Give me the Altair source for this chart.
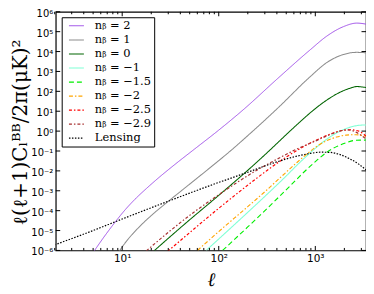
import altair as alt
import pandas as pd

# ---- series definitions ----
series_labels = ["nᵦ = 2", "nᵦ = 1", "nᵦ = 0", "nᵦ = −1", "nᵦ = −1.5",
                 "nᵦ = −2", "nᵦ = −2.5", "nᵦ = −2.9", "Lensing"]
colors = ["#a052e8", "#8c8c8c", "#006400", "#7fffd4", "#00ee00",
          "#ffa500", "#ff0000", "#a83232", "#000000"]
dashes = [[1, 0], [1, 0], [1, 0], [1, 0], [5, 3],
          [4, 2, 1.5, 2], [3, 2, 1.5, 2], [3, 2, 1.5, 2], [1.5, 1.5]]
widths = [1.0, 1.2, 1.6, 2.2, 2.8, 2.3, 1.9, 1.1, 1.2]

# values, stored as log10(ell), log10(C)
log_ell_nb2 = [0.70, 0.80, 0.92, 1.03, 1.14, 1.25, 1.35, 1.55, 1.75, 2.00, 2.26, 2.60, 2.95, 3.12, 3.29, 3.43, 3.525]
log_cl_nb2 = [-6.1, -5.4, -4.62, -3.96, -3.39, -2.89, -2.46, -1.66, -0.90, 0.05, 1.10, 2.60, 4.10, 4.78, 5.25, 5.43, 5.38]

log_ell_nb1 = [0.96, 1.05, 1.17, 1.30, 1.48, 1.69, 1.92, 2.12, 2.33, 2.61, 2.95, 3.12, 3.29, 3.43, 3.525]
log_cl_nb1 = [-6.1, -5.5, -4.85, -4.25, -3.52, -2.70, -1.80, -1.00, -0.10, 1.15, 2.75, 3.45, 3.85, 3.96, 3.94]

log_ell_nb0 = [1.33, 1.66, 2.00, 2.31, 2.52, 2.72, 2.85, 2.95, 3.05, 3.15, 3.25, 3.35, 3.43, 3.525]
log_cl_nb0 = [-6.02, -4.62, -3.23, -1.93, -1.00, -0.08, 0.50, 0.93, 1.32, 1.66, 1.94, 2.14, 2.24, 2.19]

log_ell_nbm1 = [1.87, 2.10, 2.35, 2.55, 2.70, 2.83, 2.95, 3.05, 3.15, 3.25, 3.35, 3.45, 3.525]
log_cl_nbm1 = [-6.0, -4.98, -3.86, -2.95, -2.25, -1.62, -1.08, -0.66, -0.30, -0.02, 0.18, 0.29, 0.31]

log_ell_nbm15 = [2.04, 2.30, 2.55, 2.75, 2.90, 3.02, 3.12, 3.22, 3.32, 3.42, 3.525]
log_cl_nbm15 = [-6.0, -4.82, -3.66, -2.70, -1.98, -1.45, -1.06, -0.78, -0.58, -0.46, -0.45]

log_ell_nbm2 = [1.78, 2.00, 2.30, 2.50, 2.65, 2.80, 2.92, 3.02, 3.12, 3.22, 3.32, 3.42, 3.525]
log_cl_nbm2 = [-6.0, -5.05, -3.80, -2.95, -2.28, -1.62, -1.12, -0.75, -0.48, -0.30, -0.20, -0.18, -0.26]

log_ell_nbm25 = [1.47, 1.70, 1.92, 2.20, 2.31, 2.50, 2.70, 2.90, 3.05, 3.17, 3.28, 3.36, 3.45, 3.525]
log_cl_nbm25 = [-6.05, -5.1, -4.2, -3.1, -2.68, -1.98, -1.30, -0.72, -0.36, -0.12, 0.03, 0.07, 0.0, -0.25]

log_ell_nbm29 = [1.25, 1.50, 1.75, 2.00, 2.20, 2.40, 2.60, 2.80, 3.00, 3.15, 3.25, 3.33, 3.42, 3.525]
log_cl_nbm29 = [-6.02, -5.0, -4.05, -3.2, -2.55, -1.95, -1.42, -0.92, -0.50, -0.18, 0.0, 0.06, -0.05, -0.40]

log_ell_lens = [0.30, 0.65, 1.00, 1.48, 1.92, 2.30, 2.60, 2.80, 2.95, 3.05, 3.15, 3.25, 3.35, 3.45, 3.525]
log_cl_lens = [-5.72, -5.09, -4.42, -3.52, -2.72, -2.07, -1.55, -1.27, -1.12, -1.06, -1.07, -1.17, -1.38, -1.66, -1.95]

all_ell = [log_ell_nb2, log_ell_nb1, log_ell_nb0, log_ell_nbm1, log_ell_nbm15,
           log_ell_nbm2, log_ell_nbm25, log_ell_nbm29, log_ell_lens]
all_cl = [log_cl_nb2, log_cl_nb1, log_cl_nb0, log_cl_nbm1, log_cl_nbm15,
          log_cl_nbm2, log_cl_nbm25, log_cl_nbm29, log_cl_lens]

rows = []
for i, (lab, le, lc) in enumerate(zip(series_labels, all_ell, all_cl)):
    for j, (a, b) in enumerate(zip(le, lc)):
        rows.append({"series": lab, "order": i, "idx": j,
                     "ell": 10 ** a, "cl": 10 ** b})
df = pd.DataFrame(rows)

x_major = [10, 100, 1000]
x_minor = [2, 3, 4, 5, 6, 7, 8, 9, 20, 30, 40, 50, 60, 70, 80, 90,
           200, 300, 400, 500, 600, 700, 800, 900, 2000, 3000]
y_major = [1e-6, 1e-5, 1e-4, 1e-3, 1e-2, 1e-1, 1, 1e1, 1e2, 1e3, 1e4, 1e5, 1e6]

W, H = 312, 240
lab_expr = ("'10' + (datum.value < 1e-5 ? '⁻⁶' : datum.value < 1e-4 ? '⁻⁵' : "
            "datum.value < 1e-3 ? '⁻⁴' : datum.value < 1e-2 ? '⁻³' : "
            "datum.value < 1e-1 ? '⁻²' : datum.value < 0.5 ? '⁻¹' : "
            "datum.value < 5 ? '⁰' : datum.value < 50 ? '¹' : "
            "datum.value < 500 ? '²' : datum.value < 5000 ? '³' : "
            "datum.value < 50000 ? '⁴' : datum.value < 500000 ? '⁵' : '⁶')")

xscale = alt.Scale(type="log", domain=[2.05, 3350], nice=False)
yscale = alt.Scale(type="log", domain=[1e-6, 1e6], nice=False)

lines = alt.Chart(df).mark_line(clip=True, interpolate="monotone").encode(
    x=alt.X("ell:Q", scale=xscale,
            axis=alt.Axis(values=x_major, labelExpr=lab_expr, ticks=False,
                          domain=False, grid=False, title="ℓ",
                          labelFont="DejaVu Sans", labelFontSize=10.5,
                          labelPadding=3, labelColor="#000",
                          titleFont="DejaVu Serif", titleFontSize=19,
                          titleFontWeight="normal", titleFontStyle="italic",
                          titleColor="#000",
                          titleY=35, titleBaseline="alphabetic")),
    y=alt.Y("cl:Q", scale=yscale,
            axis=alt.Axis(values=y_major, labelExpr=lab_expr, ticks=False,
                          domain=False, grid=False,
                          title="ℓ(ℓ+1)Cₗᴮᴮ/2π(μK)²",
                          labelFont="DejaVu Sans", labelFontSize=10,
                          labelPadding=3, labelColor="#000",
                          labelBaseline="middle", labelOffset=1.5,
                          titleFont="DejaVu Serif", titleFontSize=20,
                          titleFontWeight="normal", titleColor="#000",
                          titleX=-35, titleY=121, titleAngle=270,
                          titleAlign="center", titleBaseline="middle")),
    color=alt.Color("series:N", scale=alt.Scale(domain=series_labels, range=colors),
                    legend=alt.Legend(title=None, orient="none", legendX=6, legendY=5.5,
                                      fillColor="white", strokeColor="black",
                                      padding=2.8, symbolType="M-1,0H2", symbolSize=100,
                                      symbolOffset=3.5,
                                      labelFont="DejaVu Serif", labelFontSize=11.5,
                                      labelOffset=15, rowPadding=2.1, labelColor="#000")),
    strokeDash=alt.StrokeDash("series:N", scale=alt.Scale(domain=series_labels, range=dashes),
                              legend=alt.Legend(title=None)),
    strokeWidth=alt.StrokeWidth("series:N", scale=alt.Scale(domain=series_labels, range=widths),
                                legend=alt.Legend(title=None)),
    order="idx:Q",
    detail="series:N",
)

tick_x_major = pd.DataFrame({"ell": x_major})
tick_x_minor = pd.DataFrame({"ell": x_minor})
tick_y_major = pd.DataFrame({"cl": y_major})

def xt(data, y0, y1):
    return alt.Chart(data).mark_rule(color="black", strokeWidth=1).encode(
        x=alt.X("ell:Q", scale=xscale),
        y=alt.value(y0), y2=alt.value(y1))

def yt(data, x0, x1):
    return alt.Chart(data).mark_rule(color="black", strokeWidth=1).encode(
        y=alt.Y("cl:Q", scale=yscale),
        x=alt.value(x0), x2=alt.value(x1))

ticks = [
    xt(tick_x_major, H, H - 4.5), xt(tick_x_major, 0, 4.5),
    xt(tick_x_minor, H, H - 2.5), xt(tick_x_minor, 0, 2.5),
    yt(tick_y_major, 0, 4.5), yt(tick_y_major, W, W - 4.5),
]

chart = alt.layer(lines, *ticks).properties(
    width=W, height=H,
    autosize=alt.AutoSizeParams(type="none"),
    padding={"left": 48, "top": 3, "right": 0, "bottom": 43},
).configure_view(stroke="black", strokeWidth=1.2)

chart.save("out.html", embed_options={"renderer": "svg", "actions": False})
